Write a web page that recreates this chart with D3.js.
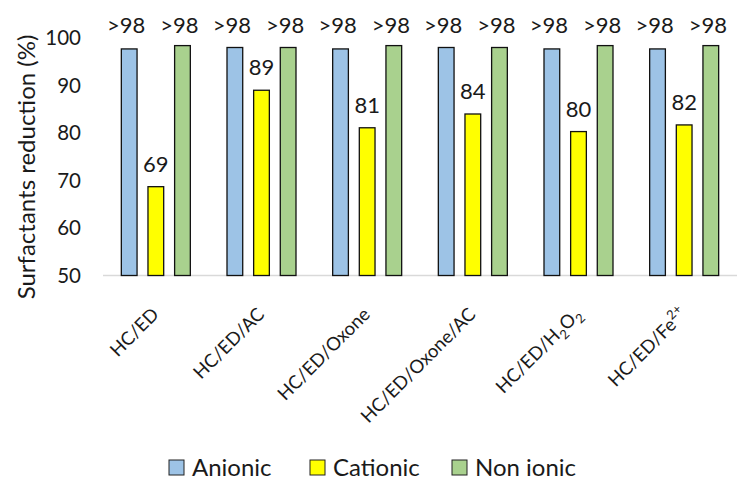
<!DOCTYPE html>
<html><head><meta charset="utf-8">
<script src="https://cdn.jsdelivr.net/npm/d3@7"></script>
<style>body{margin:0;background:#fff}svg{display:block}text{font-family:Lato,"Open Sans",sans-serif;fill:#1a1a1a}</style>
</head><body><svg id="c" width="738" height="479"></svg>
<script>
const categories = ["HC/ED","HC/ED/AC","HC/ED/Oxone","HC/ED/Oxone/AC","HC/ED/H2O2","HC/ED/Fe2+"];
const seriesNames = ["Anionic","Cationic","Non ionic"];
const anionic  = [97.7, 98.0, 97.7, 98.0, 97.7, 97.7];
const cationic = [68.7, 89.0, 81.1, 84.0, 80.3, 81.7];
const nonionic = [98.4, 98.0, 98.4, 98.0, 98.4, 98.4];
const anionicLabels  = [">98",">98",">98",">98",">98",">98"];
const cationicLabels = ["69","89","81","84","80","82"];
const nonionicLabels = [">98",">98",">98",">98",">98",">98"];
const yTicks = [50,60,70,80,90,100];
const colors = ["#9DC3E6","#FFFF00","#A9D18E"];

const svg = d3.select("#c");
const x = d3.scaleBand().domain(categories).range([103,737]);
const y = d3.scaleLinear().domain([50,100]).range([275.5,38]);
const inner = d3.scaleBand().domain(seriesNames).range([x.bandwidth()/2-34.5, x.bandwidth()/2+34.5]).paddingInner(0.41);

const series = [anionic, cationic, nonionic];
const labels = [anionicLabels, cationicLabels, nonionicLabels];
const rows = [];
categories.forEach((c,i)=>seriesNames.forEach((s,j)=>rows.push({c,s,j,v:series[j][i],lab:labels[j][i]})));

// axis line
svg.append("line").attr("x1",103).attr("x2",737).attr("y1",y(50)).attr("y2",y(50)).attr("stroke","#d9d9d9").attr("stroke-width",1.5);

// y ticks
const ya = svg.append("g").attr("transform","translate(81,0)").call(d3.axisLeft(y).tickValues(yTicks).tickSize(0).tickPadding(0));
ya.select(".domain").remove();
ya.selectAll("text").attr("font-size",20.5).attr("font-family","Lato,sans-serif").attr("fill","#1a1a1a");

// bars
svg.append("g").selectAll("rect").data(rows).join("rect")
  .attr("x",d=>x(d.c)+inner(d.s)).attr("width",inner.bandwidth())
  .attr("y",d=>y(d.v)).attr("height",d=>y(50)-y(d.v))
  .attr("fill",d=>colors[d.j]).attr("stroke","#111").attr("stroke-width",1.3);

// labels
svg.append("g").selectAll("text").data(rows).join("text")
  .attr("x",d=>x(d.c)+inner(d.s)+inner.bandwidth()/2 - (d.j===1?0:3))
  .attr("y",d=>d.j===1? y(d.v)-15 : 32.5)
  .attr("text-anchor","middle").attr("font-size",22).text(d=>d.lab);

// y title
svg.append("text").attr("transform","translate(35,167) rotate(-90)").attr("text-anchor","middle")
  .attr("font-size",24).text("Surfactants reduction (%)");

// x labels
const xl = svg.append("g").selectAll("text").data(categories).join("text")
  .attr("text-anchor","end").attr("font-size",18.5)
  .attr("transform",d=>`translate(${x(d)+x.bandwidth()/2+4},${y(50)+40}) rotate(-45)`);
xl.each(function(d){
  const t = d3.select(this);
  if(d==="HC/ED/H2O2"){
    t.append("tspan").text("HC/ED/H");
    t.append("tspan").attr("font-size",13).attr("dy",5).text("2");
    t.append("tspan").attr("dy",-5).text("O");
    t.append("tspan").attr("font-size",13).attr("dy",5).text("2");
  } else if(d==="HC/ED/Fe2+"){
    t.append("tspan").text("HC/ED/Fe");
    t.append("tspan").attr("font-size",13).attr("dy",-8).text("2+");
  } else t.text(d);
});

// legend
const lx = [169, 310, 452];
const lg = svg.append("g").selectAll("g").data(seriesNames).join("g").attr("transform",(d,i)=>`translate(${lx[i]},460)`);
lg.append("rect").attr("width",15).attr("height",15).attr("fill",(d,i)=>colors[i]).attr("stroke","#222").attr("stroke-width",1);
lg.append("text").attr("x",23).attr("y",15.5).attr("font-size",24).text(d=>d);
</script></body></html>
